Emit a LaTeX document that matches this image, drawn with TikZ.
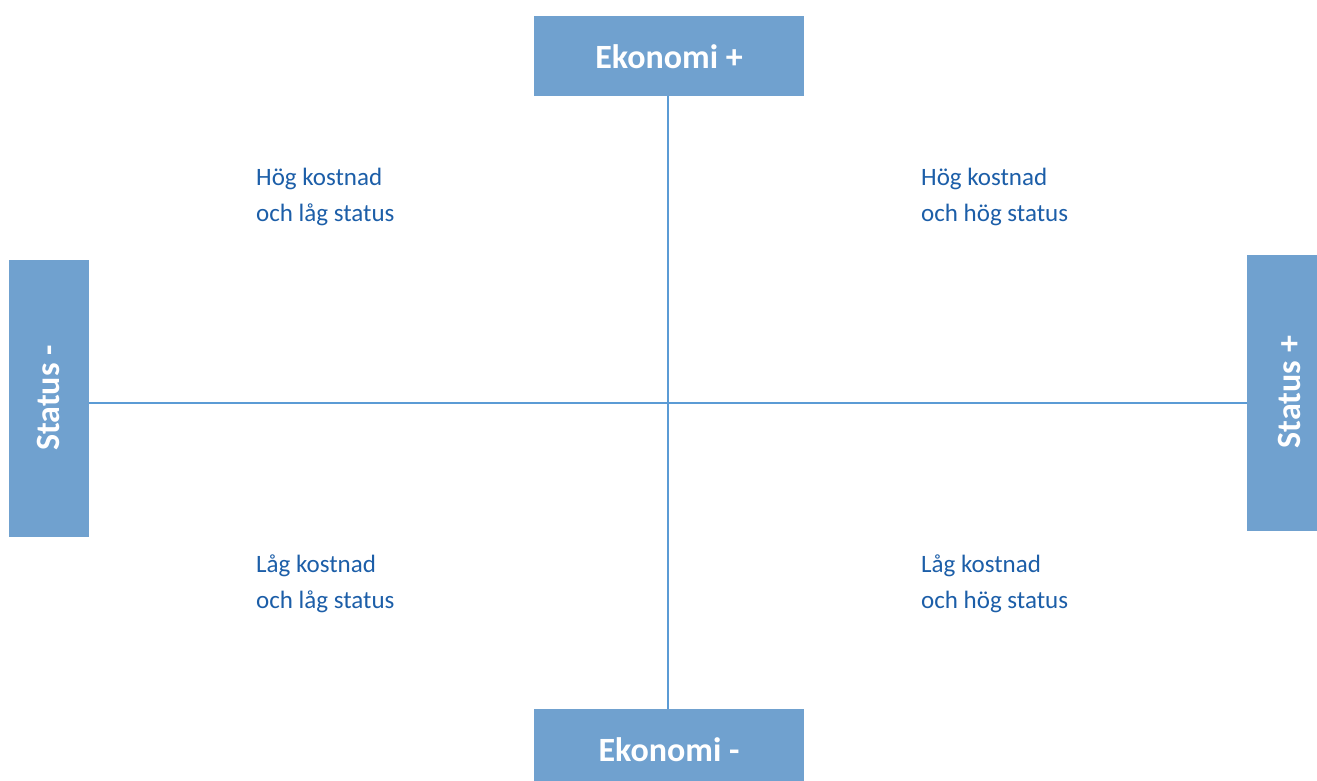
\documentclass[tikz,border=0pt]{standalone}
\usepackage{fontspec}
\setmainfont{Carlito}
\definecolor{boxblue}{RGB}{112,161,207}
\definecolor{linblue}{RGB}{91,155,213}
\definecolor{txtblue}{RGB}{28,94,168}
\tikzset{
  axbox/.style={fill=boxblue, draw=none, inner sep=0pt},
  axtxt/.style={text=white, inner sep=0pt, font=\fontsize{34}{40}\selectfont\bfseries},
  quad/.style={anchor=north west, align=left, inner sep=0pt, text=txtblue, font=\fontsize{25}{36}\selectfont},
  axline/.style={draw=linblue, line width=1.3pt}
}
\begin{document}
\begin{tikzpicture}[x=1pt,y=-1pt]
\useasboundingbox (0,0) rectangle (1317,781);
\clip (0,0) rectangle (1317,781);
\node[axbox, minimum width=270pt, minimum height=80pt] (top) at (669,56) {};
\node[axtxt] (toptxt) at (669,57) {Ekonomi +};
\node[axbox, minimum width=270pt, minimum height=80pt] (bot) at (669,749) {};
\node[axtxt] (bottxt) at (669,750) {Ekonomi -};
\node[axbox, minimum width=80pt, minimum height=277pt] (left) at (49,398.5) {};
\node[axtxt, rotate=90] (lefttxt) at (48,398) {Status -};
\node[axbox, minimum width=80pt, minimum height=276pt] (right) at (1287,393) {};
\node[axtxt, rotate=90] (righttxt) at (1289,392) {Status +};
\draw[axline] (668,96) coordinate (vt) -- (668,709) coordinate (vb);
\draw[axline] (left.east |- 0,403) coordinate (hl) -- (right.west |- 0,403) coordinate (hr);
\node[quad] (q1) at (256,168) {Hög kostnad\\och låg status};
\node[quad] (q2) at (921,168) {Hög kostnad\\och hög status};
\node[quad] (q3) at (256,555) {Låg kostnad\\och låg status};
\node[quad] (q4) at (921,555) {Låg kostnad\\och hög status};
\end{tikzpicture}
\end{document}
